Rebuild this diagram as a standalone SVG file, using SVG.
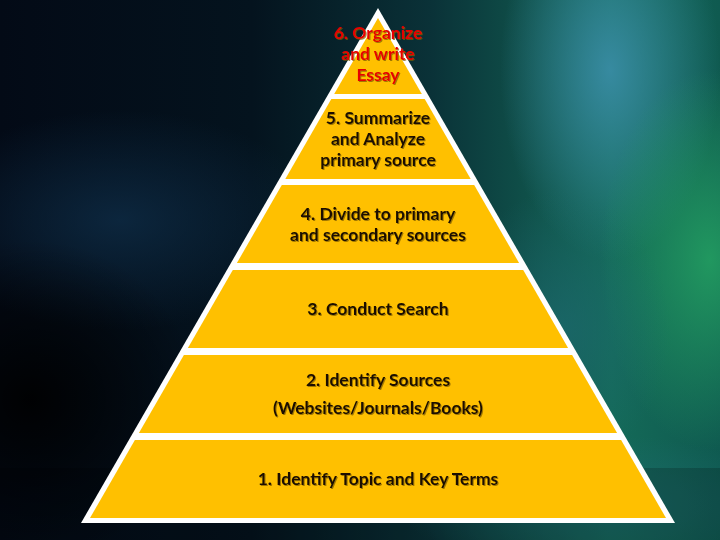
<svg xmlns="http://www.w3.org/2000/svg" width="720" height="540" viewBox="0 0 720 540">
<defs>
<linearGradient id="bg" x1="0" y1="0" x2="1" y2="0">
<stop offset="0" stop-color="#030a16"/>
<stop offset="0.35" stop-color="#04131e"/>
<stop offset="0.6" stop-color="#0a3238"/>
<stop offset="0.85" stop-color="#146a58"/>
<stop offset="1" stop-color="#0f5a50"/>
</linearGradient>
<radialGradient id="gNavy"><stop offset="0" stop-color="#0e2c46" stop-opacity="0.8"/><stop offset="1" stop-color="#0e2c46" stop-opacity="0"/></radialGradient>
<radialGradient id="gBlue"><stop offset="0" stop-color="#3d90ad" stop-opacity="0.85"/><stop offset="1" stop-color="#3d90ad" stop-opacity="0"/></radialGradient>
<radialGradient id="gGreen"><stop offset="0" stop-color="#24a262" stop-opacity="0.85"/><stop offset="1" stop-color="#24a262" stop-opacity="0"/></radialGradient>
<radialGradient id="gTeal"><stop offset="0" stop-color="#1d6a70" stop-opacity="0.7"/><stop offset="1" stop-color="#1d6a70" stop-opacity="0"/></radialGradient>
<radialGradient id="gBlack"><stop offset="0" stop-color="#000000" stop-opacity="0.9"/><stop offset="1" stop-color="#000000" stop-opacity="0"/></radialGradient>
<filter id="sh" x="-10%" y="-30%" width="120%" height="160%"><feDropShadow dx="1" dy="1" stdDeviation="0.6" flood-color="#7a5a00" flood-opacity="0.7"/></filter>
<style>
.lay{fill:#ffc000}
.t{font-family:Lato,"Liberation Sans",sans-serif;font-weight:bold;font-size:17.5px;fill:#1a1005;text-anchor:middle}
.r{fill:#e60000}
</style>
</defs>
<rect width="720" height="540" fill="url(#bg)"/>
<ellipse cx="120" cy="220" rx="200" ry="110" fill="url(#gNavy)"/>
<ellipse cx="610" cy="70" rx="110" ry="190" fill="url(#gBlue)"/>
<ellipse cx="710" cy="260" rx="110" ry="190" fill="url(#gGreen)"/>
<ellipse cx="560" cy="330" rx="110" ry="140" fill="url(#gTeal)"/>
<ellipse cx="30" cy="400" rx="170" ry="160" fill="url(#gBlack)"/>
<ellipse cx="600" cy="505" rx="200" ry="70" fill="url(#gTeal)"/>
<rect x="0" y="468" width="720" height="72" fill="#000" opacity="0.18"/>
<g id="pyramid">
<polygon points="378,8 675,523 81,523" fill="#ffffff"/>
</g>
<g id="layer6">
<polygon class="lay" points="378,18 421.8,94 334.2,94"/>
<text class="t r" filter="url(#sh)"><tspan x="378" y="39">6. Organize</tspan><tspan x="378" y="60">and write</tspan><tspan x="378" y="81">Essay</tspan></text>
</g>
<g id="layer5">
<polygon class="lay" points="424.7,99 470.7,179 285.3,179 331.3,99"/>
<text class="t" filter="url(#sh)"><tspan x="378" y="124">5. Summarize</tspan><tspan x="378" y="145">and Analyze</tspan><tspan x="378" y="166">primary source</tspan></text>
</g>
<g id="layer4">
<polygon class="lay" points="474.2,185 519.1,263 236.9,263 281.8,185"/>
<text class="t" filter="url(#sh)"><tspan x="378" y="220">4. Divide to primary</tspan><tspan x="378" y="241">and secondary sources</tspan></text>
</g>
<g id="layer3">
<polygon class="lay" points="523.2,270 568.1,348 187.9,348 232.8,270"/>
<text class="t" x="378" y="315" filter="url(#sh)">3. Conduct Search</text>
</g>
<g id="layer2">
<polygon class="lay" points="572.1,355 617.1,433 138.9,433 183.9,355"/>
<text class="t" filter="url(#sh)"><tspan x="378" y="386">2. Identify Sources</tspan><tspan x="378" y="414">(Websites/Journals/Books)</tspan></text>
</g>
<g id="layer1">
<polygon class="lay" points="621.1,440 666,518 90,518 134.9,440"/>
<text class="t" x="378" y="485" filter="url(#sh)">1. Identify Topic and Key Terms</text>
</g>
<g id="connectors"/>
</svg>
